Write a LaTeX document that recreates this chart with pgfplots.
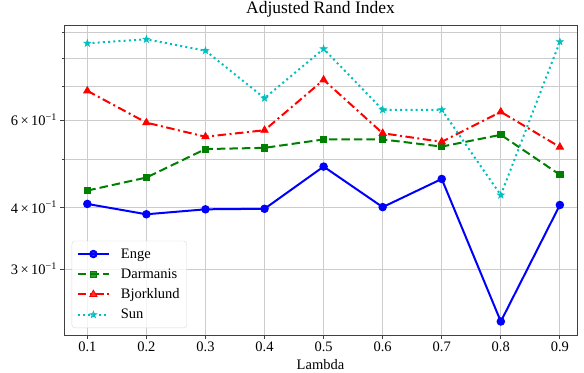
\documentclass[border=0pt]{standalone}
\usepackage{fontspec}
\setmainfont{Liberation Serif}
\usepackage{pgfplots}
\pgfplotsset{compat=1.18}
\definecolor{mgreen}{RGB}{0,128,0}
\definecolor{mcyan}{RGB}{0,191,191}
\pgfdeclareplotmark{fstar}{%
  \pgfpathmoveto{\pgfpointpolar{90}{\pgfplotmarksize}}%
  \pgfpathlineto{\pgfpointpolar{126}{0.4\pgfplotmarksize}}%
  \pgfpathlineto{\pgfpointpolar{162}{\pgfplotmarksize}}%
  \pgfpathlineto{\pgfpointpolar{198}{0.4\pgfplotmarksize}}%
  \pgfpathlineto{\pgfpointpolar{234}{\pgfplotmarksize}}%
  \pgfpathlineto{\pgfpointpolar{270}{0.4\pgfplotmarksize}}%
  \pgfpathlineto{\pgfpointpolar{306}{\pgfplotmarksize}}%
  \pgfpathlineto{\pgfpointpolar{342}{0.4\pgfplotmarksize}}%
  \pgfpathlineto{\pgfpointpolar{18}{\pgfplotmarksize}}%
  \pgfpathlineto{\pgfpointpolar{54}{0.4\pgfplotmarksize}}%
  \pgfpathclose
  \pgfusepathqfillstroke}
\begin{document}
\begin{tikzpicture}
\begin{axis}[
  name=ax,
  scale only axis,
  width=513pt, height=310pt,
  ymode=log,
  xmin=0.0605, xmax=0.929,
  ymin=0.2207, ymax=0.933,
  xtick={0.1,0.2,0.3,0.4,0.5,0.6,0.7,0.8,0.9},
  xticklabels={0.1,0.2,0.3,0.4,0.5,0.6,0.7,0.8,0.9},
  ytick={0.3,0.4,0.6},
  yticklabels={3\,×\,10\textsuperscript{−1},4\,×\,10\textsuperscript{−1},6\,×\,10\textsuperscript{−1}},
  minor ytick={0.5,0.7,0.8,0.9},
  xtick pos=bottom, ytick pos=left,
  tick align=outside,
  major tick length=3.5pt, minor tick length=2pt,
  every tick/.style={black!75, line width=0.8pt},
  grid=both,
  major grid style={black!20, line width=0.8pt},
  minor grid style={black!20, line width=0.8pt},
  axis line style={black!75, line width=0.8pt},
  tick label style={font=\fontsize{14.5}{17}\selectfont},
  title={Adjusted Rand Index},
  title style={font=\fontsize{17.5}{20}\selectfont, at={(0.5,1)}, anchor=base, yshift=5.5pt},
  xlabel={Lambda},
  xlabel style={font=\fontsize{14.5}{17}\selectfont, at={(0.5,0)}, anchor=base, yshift=-34.3pt},
  legend style={at={(0.0150,0.0226)}, anchor=south west, draw=black!15, rounded corners=3pt,
    fill=white, fill opacity=0.8, text opacity=1, font=\fontsize{14.5}{17}\selectfont,
    row sep=5pt, inner xsep=5pt, inner ysep=5.5pt,
    /tikz/every odd column/.append style={column sep=9pt}},
  legend cell align=left,
  legend image code/.code={\draw[mark repeat=2,mark phase=2] plot coordinates {(0pt,0pt) (15.5pt,0pt) (31pt,0pt)};},
]
\addplot[blue, line width=2pt, mark=*, mark size=3.2pt, mark options={solid}]
 coordinates {(0.1,0.406) (0.2,0.387) (0.3,0.396) (0.4,0.397) (0.5,0.483) (0.6,0.400) (0.7,0.456) (0.8,0.235) (0.9,0.404)};
\addlegendentry{Enge}
\addplot[mgreen, line width=2pt, dash pattern=on 8.5pt off 4pt, mark=square*, mark size=3.1pt, mark options={solid, line width=0.8pt}]
 coordinates {(0.1,0.432) (0.2,0.459) (0.3,0.524) (0.4,0.527) (0.5,0.548) (0.6,0.548) (0.7,0.530) (0.8,0.560) (0.9,0.465)};
\addlegendentry{Darmanis}
\addplot[red, line width=2pt, dash pattern=on 8.5pt off 3.5pt on 2pt off 3.5pt, mark=triangle*, mark size=4.2pt, mark options={solid, line width=0.8pt}]
 coordinates {(0.1,0.687) (0.2,0.5925) (0.3,0.555) (0.4,0.572) (0.5,0.723) (0.6,0.564) (0.7,0.542) (0.8,0.623) (0.9,0.529)};
\addlegendentry{Bjorklund}
\addplot[mcyan, line width=2pt, dash pattern=on 2pt off 3.2pt, mark=fstar, mark size=3.6pt, mark options={solid, line width=0.6pt}]
 coordinates {(0.1,0.857) (0.2,0.873) (0.3,0.828) (0.4,0.664) (0.5,0.835) (0.6,0.629) (0.7,0.629) (0.8,0.423) (0.9,0.863)};
\addlegendentry{Sun}
\end{axis}
\pgfresetboundingbox
\path[use as bounding box] ([xshift=-64pt,yshift=-37pt]ax.south west) rectangle ([xshift=7pt,yshift=25pt]ax.north east);
\end{tikzpicture}
\end{document}
